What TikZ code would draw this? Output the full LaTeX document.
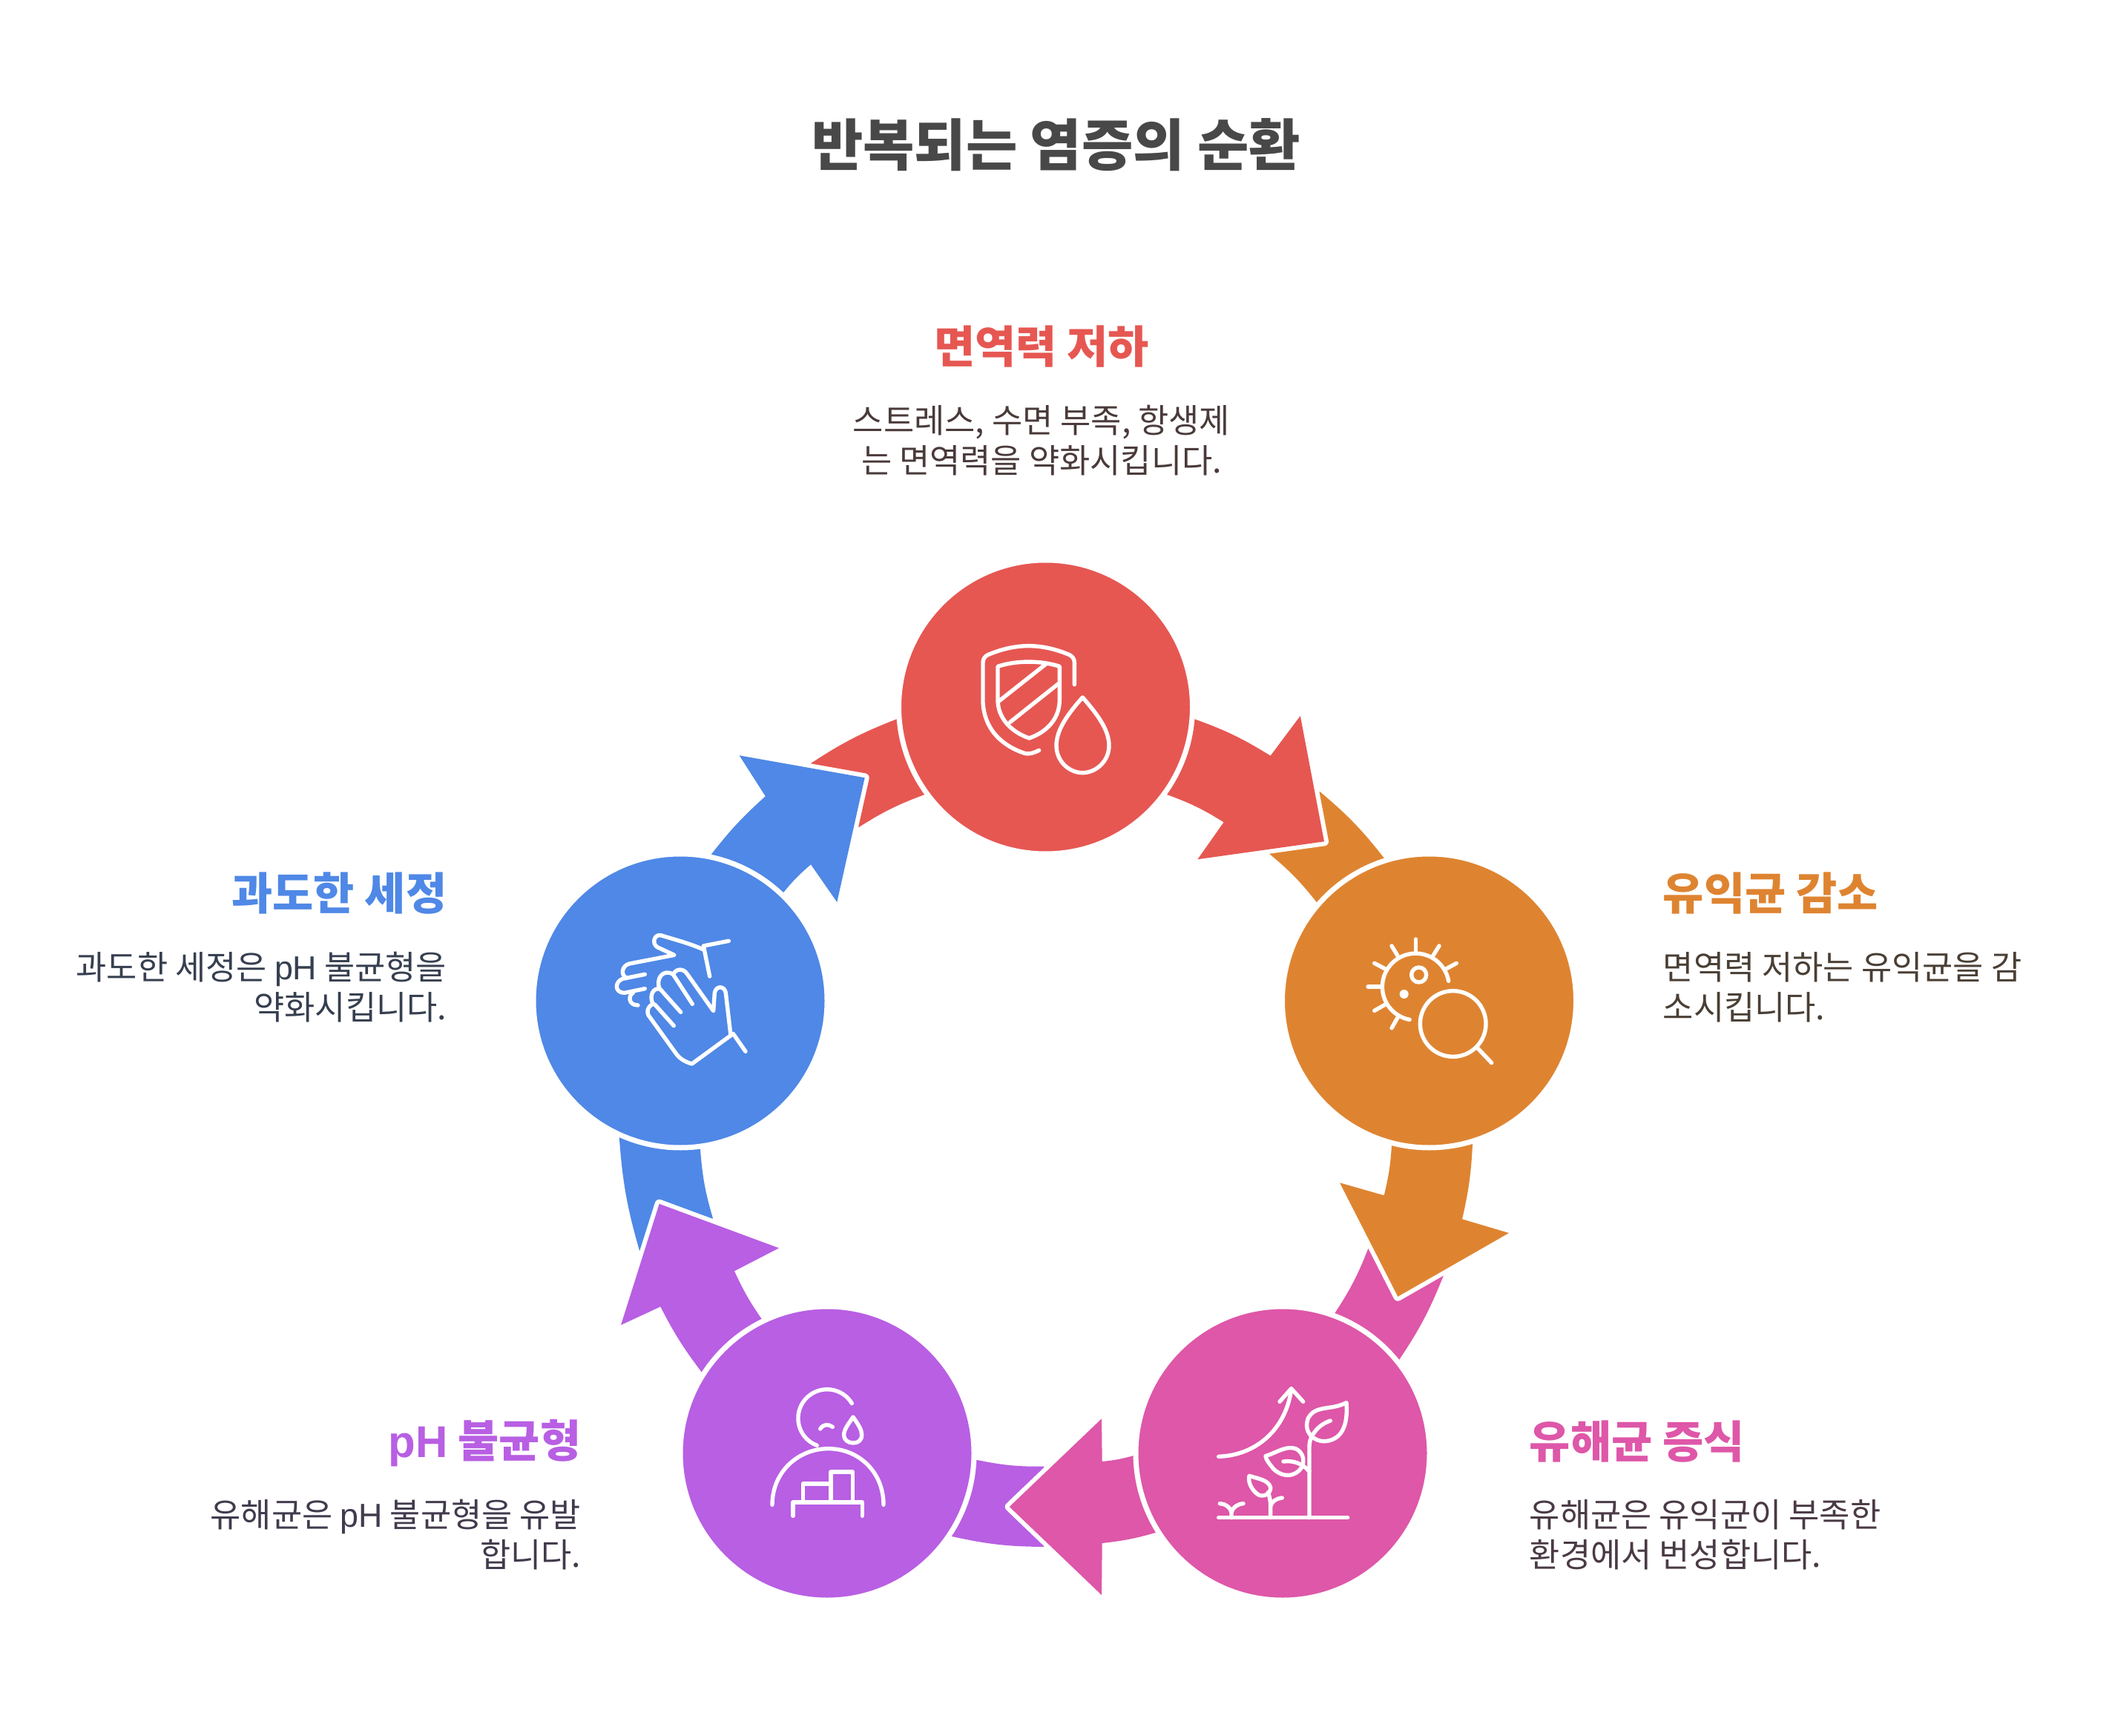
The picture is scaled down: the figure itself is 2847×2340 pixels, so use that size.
\documentclass[tikz,border=0pt]{standalone}
\usepackage{fontspec}
\setmainfont{Noto Sans CJK KR}
\newfontfamily\latinfont{Liberation Sans}
\usetikzlibrary{positioning}
\definecolor{immunered}{HTML}{E65752}
\definecolor{gutorange}{HTML}{DE8431}
\definecolor{germpink}{HTML}{DE57A8}
\definecolor{phpurple}{HTML}{B85FE3}
\definecolor{washblue}{HTML}{4F88E6}
\definecolor{titlegray}{HTML}{484848}
\definecolor{immunedark}{HTML}{4A3A3A}
\definecolor{gutdark}{HTML}{4A3F35}
\definecolor{germdark}{HTML}{4A3A45}
\definecolor{phdark}{HTML}{423A4D}
\definecolor{washdark}{HTML}{363F4F}

\begin{document}
\begin{tikzpicture}[
    x=0.25pt, y=-0.25pt, % Reference pixels, y pointing down
    bubble/.style={circle, draw=white, line width=1.75pt, minimum size=99pt, inner sep=0pt}, % Circles
    tail/.style={fill=#1}, % Back part of a band
    head/.style={fill=#1, preaction={draw=white, line width=3pt, line join=round}}, % Arrow with halo
    icon/.style={draw=white, line width=1.35pt, line cap=round, line join=round}, % Icon strokes
    heading/.style={font=\fontsize{18.85}{22}\selectfont\bfseries, text=titlegray, inner sep=0pt},
    steptitle/.style={font=\fontsize{15}{18}\selectfont\bfseries, text=#1, inner sep=0pt},
    stepnote/.style={font=\fontsize{11.2}{13.5}\selectfont, text=#1, inner sep=0pt}
]
    \useasboundingbox (0,0) rectangle (2847,2340);

    % --- Circle centres ---
    \coordinate (immunec) at (1409.5,953);
    \coordinate (gutc) at (1926.5,1349);
    \coordinate (germc) at (1729,1959);
    \coordinate (phc) at (1115,1959);
    \coordinate (washc) at (917,1349);

    % --- Tails ---
    \path[tail=immunered] (1093,1029) to[bend left=6] (1209.5,969) -- (immunec) -- (1246.5,1071) to[bend right=6] (1157.7,1115) -- cycle;
    \path[tail=gutorange] (1779,1067) to[bend left=6] (1866,1157) -- (gutc) -- (1775.5,1217) to[bend right=6] (1711.3,1151) -- cycle;
    \path[tail=germpink] (1946,1719) to[bend left=6] (1886,1833) -- (germc) -- (1798.7,1771) to[bend right=6] (1844.3,1683) -- cycle;
    \path[tail=phpurple] (1407.3,2085) to[bend left=6] (1283.3,2071) -- (phc) -- (1317.3,1968) to[bend right=6] (1407.3,1976.7) -- cycle;
    \path[tail=washblue] (862.3,1686.7) to[bend left=6] (834.7,1532.3) -- (washc) -- (944,1549.3) to[bend right=6] (961,1642.3) -- cycle;

    % --- Arrows ---
    \path[head=immunered] (immunec) -- (1609.5,969) to[bend left=6] (1712.6,1018.7) -- (1752.8,965) -- (1785,1134.3) -- (1614.4,1158.3) -- (1649.6,1108.3) to[bend right=6] (1572.9,1071) -- cycle;
    \path[head=gutorange] (gutc) -- (1985,1542.3) to[bend left=5] (1971,1643.3) -- (2034,1662) -- (1884.3,1747.7) -- (1806,1594.3) -- (1865.7,1611.3) to[bend right=5] (1876,1544) -- cycle;
    \path[head=germpink] (germc) -- (1558.3,2065.7) to[bend left=5] (1485.7,2080) -- (1485,2150) -- (1360.7,2031) -- (1485,1912.3) -- (1485.7,1970) to[bend right=5] (1528.3,1962) -- cycle;
    \path[head=phpurple] (phc) -- (946.7,1850.7) to[bend left=5] (890.3,1761.3) -- (837,1786) -- (888.7,1622.7) -- (1050,1682.3) -- (990,1713.3) to[bend right=5] (1027,1778.3) -- cycle;
    \path[head=washblue] (washc) -- (958.3,1152.3) to[bend left=5] (1031.8,1073.3) -- (996.6,1018.3) -- (1165.7,1048.3) -- (1128.3,1216) -- (1093,1165.3) to[bend right=5] (1056.3,1202.7) -- cycle;

    % --- Circles ---
    \node[bubble, fill=immunered] (immune) at (immunec) {};
    \node[bubble, fill=gutorange] (gut) at (gutc) {};
    \node[bubble, fill=germpink] (germ) at (germc) {};
    \node[bubble, fill=phpurple] (ph) at (phc) {};
    \node[bubble, fill=washblue] (wash) at (washc) {};

    % Shield and drop
    \begin{scope}[shift={(1300,840)}, scale=1/3]
        \draw[icon] (445,248) -- (445,160) .. controls (445,145) and (438,135) .. (425,128) .. controls (310,80) and (210,80) .. (95,128) .. controls (82,135) and (75,145) .. (75,160) -- (75,320) .. controls (80,420) and (140,490) .. (240,525) .. controls (262,532) and (280,525) .. (302,514);
        \draw[icon] (135,175) .. controls (210,150) and (310,150) .. (385,175) -- (385,310) .. controls (385,385) and (335,440) .. (262,465) .. controls (190,440) and (135,385) .. (135,310) -- cycle;
        \draw[icon] (140,315) -- (330,165);
        \draw[icon] (185,400) -- (380,245);
        \draw[icon] (478,300) .. controls (420,365) and (372,430) .. (372,495) .. controls (372,560) and (425,605) .. (478,605) .. controls (530,605) and (585,560) .. (585,495) .. controls (585,430) and (535,365) .. (478,300) -- cycle;
    \end{scope}

    % Germ and lens
    \begin{scope}[shift={(1780,1180)}, scale=1/3]
        \draw[icon] (518,427) arc[start angle=-10, end angle=-259.5, radius=135];
        \foreach \xa/\ya/\xb/\yb in {385/258/385/313, 288/285/312/325, 218/355/262/378, 192/450/245/450, 218/547/262/522, 288/617/312/575, 480/285/455/325, 550/355/508/378}
            \draw[icon] (\xa,\ya) -- (\xb,\yb);
        \draw[icon] (398,402) circle[radius=30];
        \fill[white] (338,480) circle[radius=18];
        \draw[icon] (536,600) circle[radius=133];
        \draw[icon] (637,700) -- (692,758);
    \end{scope}

    % Plants
    \begin{scope}[shift={(1600,1830)}, scale=1/3]
        \draw[icon] (128,647) -- (650,647);
        \draw[icon] (495,647) -- (495,360) .. controls (495,340) and (500,325) .. (510,310) .. controls (525,285) and (550,265) .. (580,255);
        \draw[icon] (645,182) .. controls (580,215) and (520,190) .. (490,245) .. controls (470,300) and (510,340) .. (560,338) .. controls (640,330) and (650,250) .. (645,182) -- cycle;
        \draw[icon] (318,398) .. controls (360,385) and (400,355) .. (440,368) .. controls (475,385) and (480,430) .. (455,455) .. controls (420,490) and (375,475) .. (350,450) .. controls (335,430) and (320,415) .. (318,398) -- cycle;
        \draw[icon] (390,420) .. controls (425,415) and (465,425) .. (495,460);
        \draw[icon] (252,478) .. controls (290,490) and (330,495) .. (338,525) .. controls (340,550) and (310,565) .. (290,555) .. controls (265,540) and (245,505) .. (252,478) -- cycle;
        \draw[icon] (338,647) -- (338,600) .. controls (338,580) and (335,565) .. (328,545);
        \draw[icon] (338,600) .. controls (345,580) and (360,570) .. (385,567);
        \draw[icon] (180,647) -- (180,625) .. controls (175,605) and (155,590) .. (133,590);
        \draw[icon] (180,625) .. controls (185,605) and (205,592) .. (228,590);
        \draw[icon] (128,400) .. controls (280,395) and (400,290) .. (422,128);
        \draw[icon] (375,178) -- (422,125) -- (470,178);
    \end{scope}

    % Person and podium
    \begin{scope}[shift={(1000,1830)}, scale=1/3]
        \draw[icon] (445,185) arc[start angle=-31, end angle=-249.5, radius=117];
        \draw[icon] (123,595) .. controls (123,460) and (230,368) .. (350,368) .. controls (470,368) and (573,460) .. (573,595);
        \draw[icon] (317,288) .. controls (330,268) and (350,268) .. (367,280);
        \draw[icon] (450,240) .. controls (430,270) and (413,290) .. (413,312) .. controls (413,335) and (432,345) .. (450,345) .. controls (470,345) and (485,335) .. (485,312) .. controls (485,290) and (470,270) .. (450,240) -- cycle;
        \draw[icon] (207,640) -- (207,585) -- (487,585) -- (487,640);
        \draw[icon] (247,585) -- (247,510) -- (360,510);
        \draw[icon] (360,585) -- (360,462) -- (448,462) -- (448,585);
    \end{scope}

    % Hands
    \begin{scope}[shift={(800,1230)}, scale=1/3]
        \draw[icon] (547,115) -- (445,135) -- (470,258);
        \draw[icon] (445,150) .. controls (390,125) and (330,110) .. (272,92) .. controls (245,88) and (235,125) .. (258,140) -- (327,172) -- (145,207) .. controls (115,215) and (110,250) .. (130,262);
        \draw[icon] (208,250) -- (118,268) .. controls (85,280) and (85,325) .. (125,325) -- (208,308);
        \draw[icon] (160,325) .. controls (140,335) and (140,375) .. (180,375);
        \draw[icon] (615,562) -- (565,490) -- (398,612) .. controls (375,605) and (350,595) .. (330,565) -- (222,415) .. controls (210,390) and (235,365) .. (248,372) -- (325,458);
        \draw[icon] (240,368) .. controls (225,340) and (240,300) .. (270,310) -- (353,403);
        \draw[icon] (268,310) .. controls (250,270) and (280,225) .. (322,250) -- (400,370);
        \draw[icon] (322,250) .. controls (335,225) and (365,225) .. (380,250) -- (485,398) -- (490,325) .. controls (495,295) and (530,295) .. (535,325) -- (555,497);
    \end{scope}

    % --- Texts ---
    \node[heading] (cycletitle) at (1423.5,195) {반복되는 염증의 순환};

    \node[steptitle=immunered] (immunetitle) at (1404,467) {면역력 저하};
    \node[stepnote=immunedark, align=center] (immunenote) at (1404,594) {스트레스, 수면 부족, 항생제\\는 면역력을 약화시킵니다.};

    \node[steptitle=gutorange, anchor=west] (guttitle) at (2241,1204) {유익균 감소};
    \node[stepnote=gutdark, align=left, anchor=west] (gutnote) at (2241,1331) {면역력 저하는 유익균을 감\\소시킵니다.};

    \node[steptitle=germpink, anchor=west] (germtitle) at (2061,1943) {유해균 증식};
    \node[stepnote=germdark, align=left, anchor=west] (germnote) at (2061,2069) {유해균은 유익균이 부족한\\환경에서 번성합니다.};

    \node[steptitle=phpurple, anchor=east] (phtitle) at (784,1945) {{\latinfont pH} 불균형};
    \node[stepnote=phdark, align=right, anchor=east] (phnote) at (784,2069) {유해균은 {\latinfont pH} 불균형을 유발\\합니다.};

    \node[steptitle=washblue, anchor=east] (washtitle) at (603,1204) {과도한 세정};
    \node[stepnote=washdark, align=right, anchor=east] (washnote) at (603,1331) {과도한 세정은 {\latinfont pH} 불균형을\\약화시킵니다.};
\end{tikzpicture}
\end{document}
